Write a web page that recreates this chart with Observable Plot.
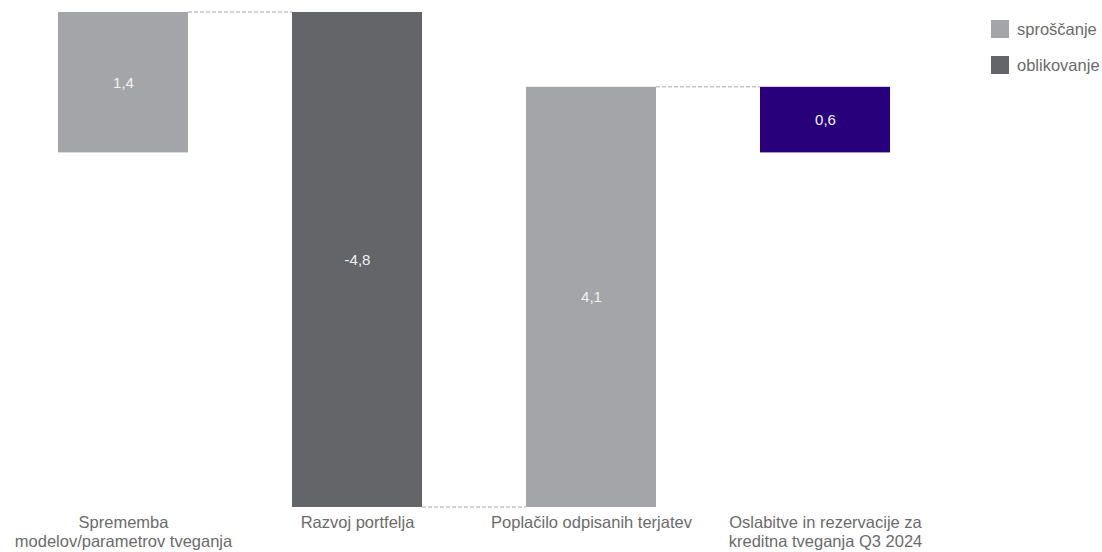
<!DOCTYPE html>
<html>
<head>
<meta charset="utf-8">
<script src="https://cdn.jsdelivr.net/npm/d3@7"></script>
<script src="https://cdn.jsdelivr.net/npm/@observablehq/plot@0.6"></script>
<style>
  html, body { margin: 0; padding: 0; background: #fff; }
  #wrap { position: relative; width: 1102px; height: 552px; overflow: hidden; font-family: "Liberation Sans", Arial, sans-serif; }
  #legend { position: absolute; left: 991px; top: 20px; font-size: 16.5px; color: #6b6b6b; }
  .item { display: flex; align-items: center; height: 18px; margin-bottom: 18px; white-space: nowrap; }
  .sw { width: 18px; height: 18px; margin-right: 8px; flex: none; }
</style>
</head>
<body>
<div id="wrap"><div id="legend"></div></div>
<script>
const categories = [
  "Sprememba\nmodelov/parametrov tveganja",
  "Razvoj portfelja",
  "Poplačilo odpisanih terjatev",
  "Oslabitve in rezervacije za\nkreditna tveganja Q3 2024"
];
const values = [1.37, -4.83, 4.1, 0.64];
const types = ["sproščanje", "oblikovanje", "sproščanje", "skupaj"];
const isTotal = [false, false, false, true];

const legendLabels = ["sproščanje", "oblikovanje"];
const colorDomain = ["sproščanje", "oblikovanje", "skupaj"];
const colorRange = ["#a4a5a8", "#636569", "#29007b"];

// waterfall table
let running = 0;
const data = categories.map((c, i) => {
  let y1, y2;
  if (isTotal[i]) { y1 = 0; y2 = values[i]; running = values[i]; }
  else { y1 = running; y2 = running + values[i]; running = y2; }
  return {cat: c, y1, y2, type: types[i], label: d3.format(".1f")(values[i]).replace(".", ",").replace("\u2212", "-")};
});
const links = data.slice(0, -1).map((d, i) => ({from: d.cat, to: data[i + 1].cat, y: d.y2}));

function connectors(index, scales) {
  const g = d3.create("svg:g");
  const bw = scales.x.bandwidth ? scales.x.bandwidth() : 0;
  for (const l of links) {
    g.append("line")
      .attr("x1", scales.x(l.from) + bw)
      .attr("x2", scales.x(l.to))
      .attr("y1", scales.y(l.y))
      .attr("y2", scales.y(l.y))
      .attr("stroke", "#a6a6a6")
      .attr("stroke-width", 1)
      .attr("stroke-dasharray", "4,2");
  }
  return g.node();
}

const yMin = d3.min(data, d => Math.min(d.y1, d.y2));
const yMax = d3.max(data, d => Math.max(d.y1, d.y2));

const chart = Plot.plot({
  width: 1102,
  height: 552,
  marginTop: 12,
  marginBottom: 45,
  marginLeft: 58,
  marginRight: 211,
  style: {fontFamily: "'Liberation Sans', Arial, sans-serif", background: "transparent", overflow: "visible"},
  x: {domain: categories, paddingInner: 0.444, paddingOuter: 0, label: null},
  y: {domain: [yMin, yMax], axis: null},
  color: {domain: colorDomain, range: colorRange},
  marks: [
    Plot.barY(data, {x: "cat", y1: "y1", y2: "y2", fill: "type"}),
    connectors,
    Plot.text(data, {x: "cat", y: d => (d.y1 + d.y2) / 2, text: "label", fill: "#f2f2f2", fontSize: 15}),
    Plot.axisX({tickSize: 0, tickPadding: 7, fontSize: 16.5, lineHeight: 1.15, color: "#6b6b6b", label: null})
  ]
});
document.getElementById("wrap").prepend(chart);

const legend = document.getElementById("legend");
legendLabels.forEach((t) => {
  const item = document.createElement("div");
  item.className = "item";
  const sw = document.createElement("div");
  sw.className = "sw";
  sw.style.background = colorRange[colorDomain.indexOf(t)];
  const lab = document.createElement("span");
  lab.textContent = t;
  item.append(sw, lab);
  legend.append(item);
});
</script>
</body>
</html>
